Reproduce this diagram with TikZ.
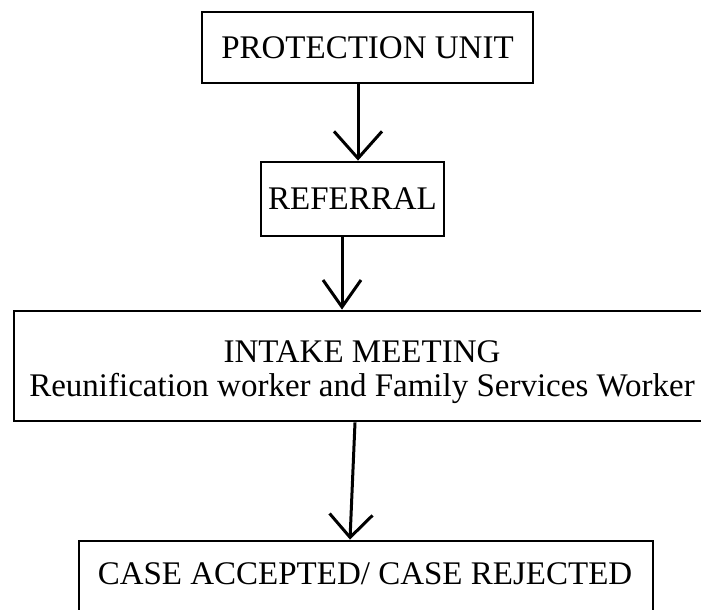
\documentclass[tikz,border=0pt]{standalone}
\usepackage{fontspec}
\setmainfont{Liberation Serif}
\usetikzlibrary{arrows.meta}
\begin{document}
\begin{tikzpicture}[x=1bp,y=-1bp,
  box/.style={draw, line width=2.8bp, inner sep=0pt},
  txt/.style={inner sep=0pt, font=\fontsize{33bp}{34bp}\selectfont},
  arr/.style={line width=3bp, -{Straight Barb[length=26bp,width=44bp,line width=3bp]}}]
\useasboundingbox (0,0) rectangle (701,610);
\clip (0,0) rectangle (701,610);
% boxes
\node[box, txt, minimum width=331bp, minimum height=71bp] (prot) at (367.5,47.5) {PROTECTION UNIT};
\node[box, txt, minimum width=183bp, minimum height=74bp] (ref) at (352.5,199) {REFERRAL};
\node[box, minimum width=701bp, minimum height=110bp] (intake) at (364.5,366) {};
\node[txt, align=center] (intaket) at (362,372.5) {INTAKE MEETING\\Reunification worker and Family Services Worker};
\node[box, minimum width=574bp, minimum height=84bp] (acc) at (366,583) {};
\node[txt] (acct) at (365,574) {CASE ACCEPTED/ CASE REJECTED};
% arrow columns
\coordinate (c1) at (358,0);
\coordinate (c2) at (342,0);
\coordinate (c3a) at (355,0);
\coordinate (c3b) at (350,0);
\draw[arr, -{Straight Barb[length=27bp,width=48bp,line width=3bp]}] (prot.south -| c1) -- (ref.north -| c1);
\draw[arr, -{Straight Barb[length=27bp,width=38bp,line width=3bp]}] (ref.south -| c2) -- (intake.north -| c2);
\draw[arr, -{Straight Barb[length=23bp,width=43bp,line width=3bp]}] (intake.south -| c3a) -- (acc.north -| c3b);
\end{tikzpicture}
\end{document}
